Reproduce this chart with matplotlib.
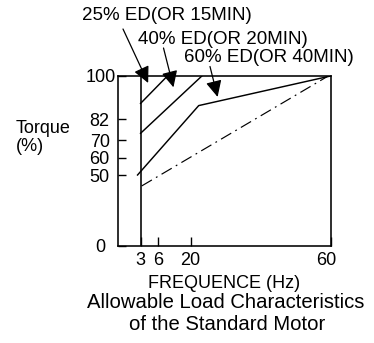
import numpy as np
import matplotlib
matplotlib.use("Agg")
import matplotlib.pyplot as plt
import matplotlib.transforms as mtransforms
from matplotlib.scale import FuncScale

plt.rcParams['font.family'] = ['Liberation Sans', 'DejaVu Sans']

# ---- data ----
x_ticks = [3, 6, 20, 60]
y_ticks = [0, 50, 60, 70, 82, 100]

ed25_x = [3, 10]
ed25_y = [88.6, 100]
ed40_x = [3, 23.2]
ed40_y = [74, 100]
ed60_x = [2.6, 22.3, 60]
ed60_y = [50, 87.7, 100]
base_x = [3.2, 59.0]
base_y = [42.3, 99.7]
limit_x = [3, 3]
limit_y = [0, 100]

labels = ["25% ED(OR 15MIN)", "40% ED(OR 20MIN)", "60% ED(OR 40MIN)"]
arrow_tips_x = [4.3, 12.6, 27.7]
arrow_tips_y = [97.1, 95.3, 91.3]

# ---- non-linear schematic scales (piecewise) ----
xv = np.array([0, 3, 6, 20, 60], float)
xp = np.array([0, 22.5, 40, 72.5, 212], float)
yv = np.array([0, 50, 60, 70, 82, 100], float)
yp = np.array([0, 71, 88, 105.7, 126.7, 170], float)

def fx(v): return np.interp(v, xv, xp)
def ix(p): return np.interp(p, xp, xv)
def fy(v): return np.interp(v, yv, yp)
def iy(p): return np.interp(p, yp, yv)

W, H = 374, 343
fig = plt.figure(figsize=(W / 100, H / 100), dpi=100)
L, R, T, B = 118, 330.5, 76, 246
ax = fig.add_axes([L / W, (H - B) / H, (R - L) / W, (B - T) / H])
ax.set_xscale(FuncScale(ax.xaxis, (fx, ix)))
ax.set_yscale(FuncScale(ax.yaxis, (fy, iy)))
ax.set_xlim(0, 60)
ax.set_ylim(0, 100)

lw = 1.05
ax.plot(limit_x, limit_y, color='black', lw=1.15)
ax.plot(ed25_x, ed25_y, color='black', lw=lw)
ax.plot(ed40_x, ed40_y, color='black', lw=lw)
ax.plot(ed60_x, ed60_y, color='black', lw=lw)
ax.plot(base_x, base_y, color='black', lw=0.85, linestyle=(0, (10, 4, 1.5, 4)))

for s in ax.spines.values():
    s.set_linewidth(1.15)

ax.set_xticks(x_ticks)
ax.set_xticklabels([str(v) for v in x_ticks])
ax.set_yticks(y_ticks)
ax.set_yticklabels([str(v) for v in y_ticks])
ax.tick_params(axis='x', direction='in', length=6.5, width=1.0, pad=4, labelsize=13)
ax.tick_params(axis='y', direction='in', length=5.5, width=1.0, pad=6, labelsize=13)

# small per-label nudges as in the original drawing
def nudge(lbl, dx_px):
    lbl.set_transform(lbl.get_transform() +
                      mtransforms.ScaledTranslation(dx_px / 100, 0, fig.dpi_scale_trans))

ylabels = ax.get_yticklabels()
nudge(ylabels[0], -4)
nudge(ylabels[-1], 6)
nudge(ax.get_xticklabels()[-1], -4)

# annotations
tails = [(123, H - 29), (163.5, H - 48), (210, H - 66.5)]
text_pos = [(167, H - 15), (223, H - 39), (269, H - 58)]
for lab, tx, ty, tail, tp in zip(labels, arrow_tips_x, arrow_tips_y, tails, text_pos):
    ax.annotate('', xy=(tx, ty), xycoords='data', xytext=tail,
                textcoords='figure pixels',
                arrowprops=dict(arrowstyle='-|>,head_length=0.45,head_width=0.22',
                                mutation_scale=22, color='black', lw=0.9,
                                shrinkA=0, shrinkB=0), annotation_clip=False)
    fig.text(tp[0] / W, tp[1] / H, lab, ha='center', va='center', fontsize=13.5)

fig.text(16 / W, (H - 137.5) / H, "Torque\n(%)", ha='left', va='center',
         fontsize=13, linespacing=1.15)
fig.text(224 / W, (H - 283) / H, "FREQUENCE (Hz)", ha='center', va='center', fontsize=13)
fig.text(226 / W, (H - 303) / H, "Allowable Load Characteristics", ha='center',
         va='center', fontsize=14.6)
fig.text(227 / W, (H - 325) / H, "of the Standard Motor", ha='center',
         va='center', fontsize=14.6)

fig.savefig("out.png", dpi=100)
